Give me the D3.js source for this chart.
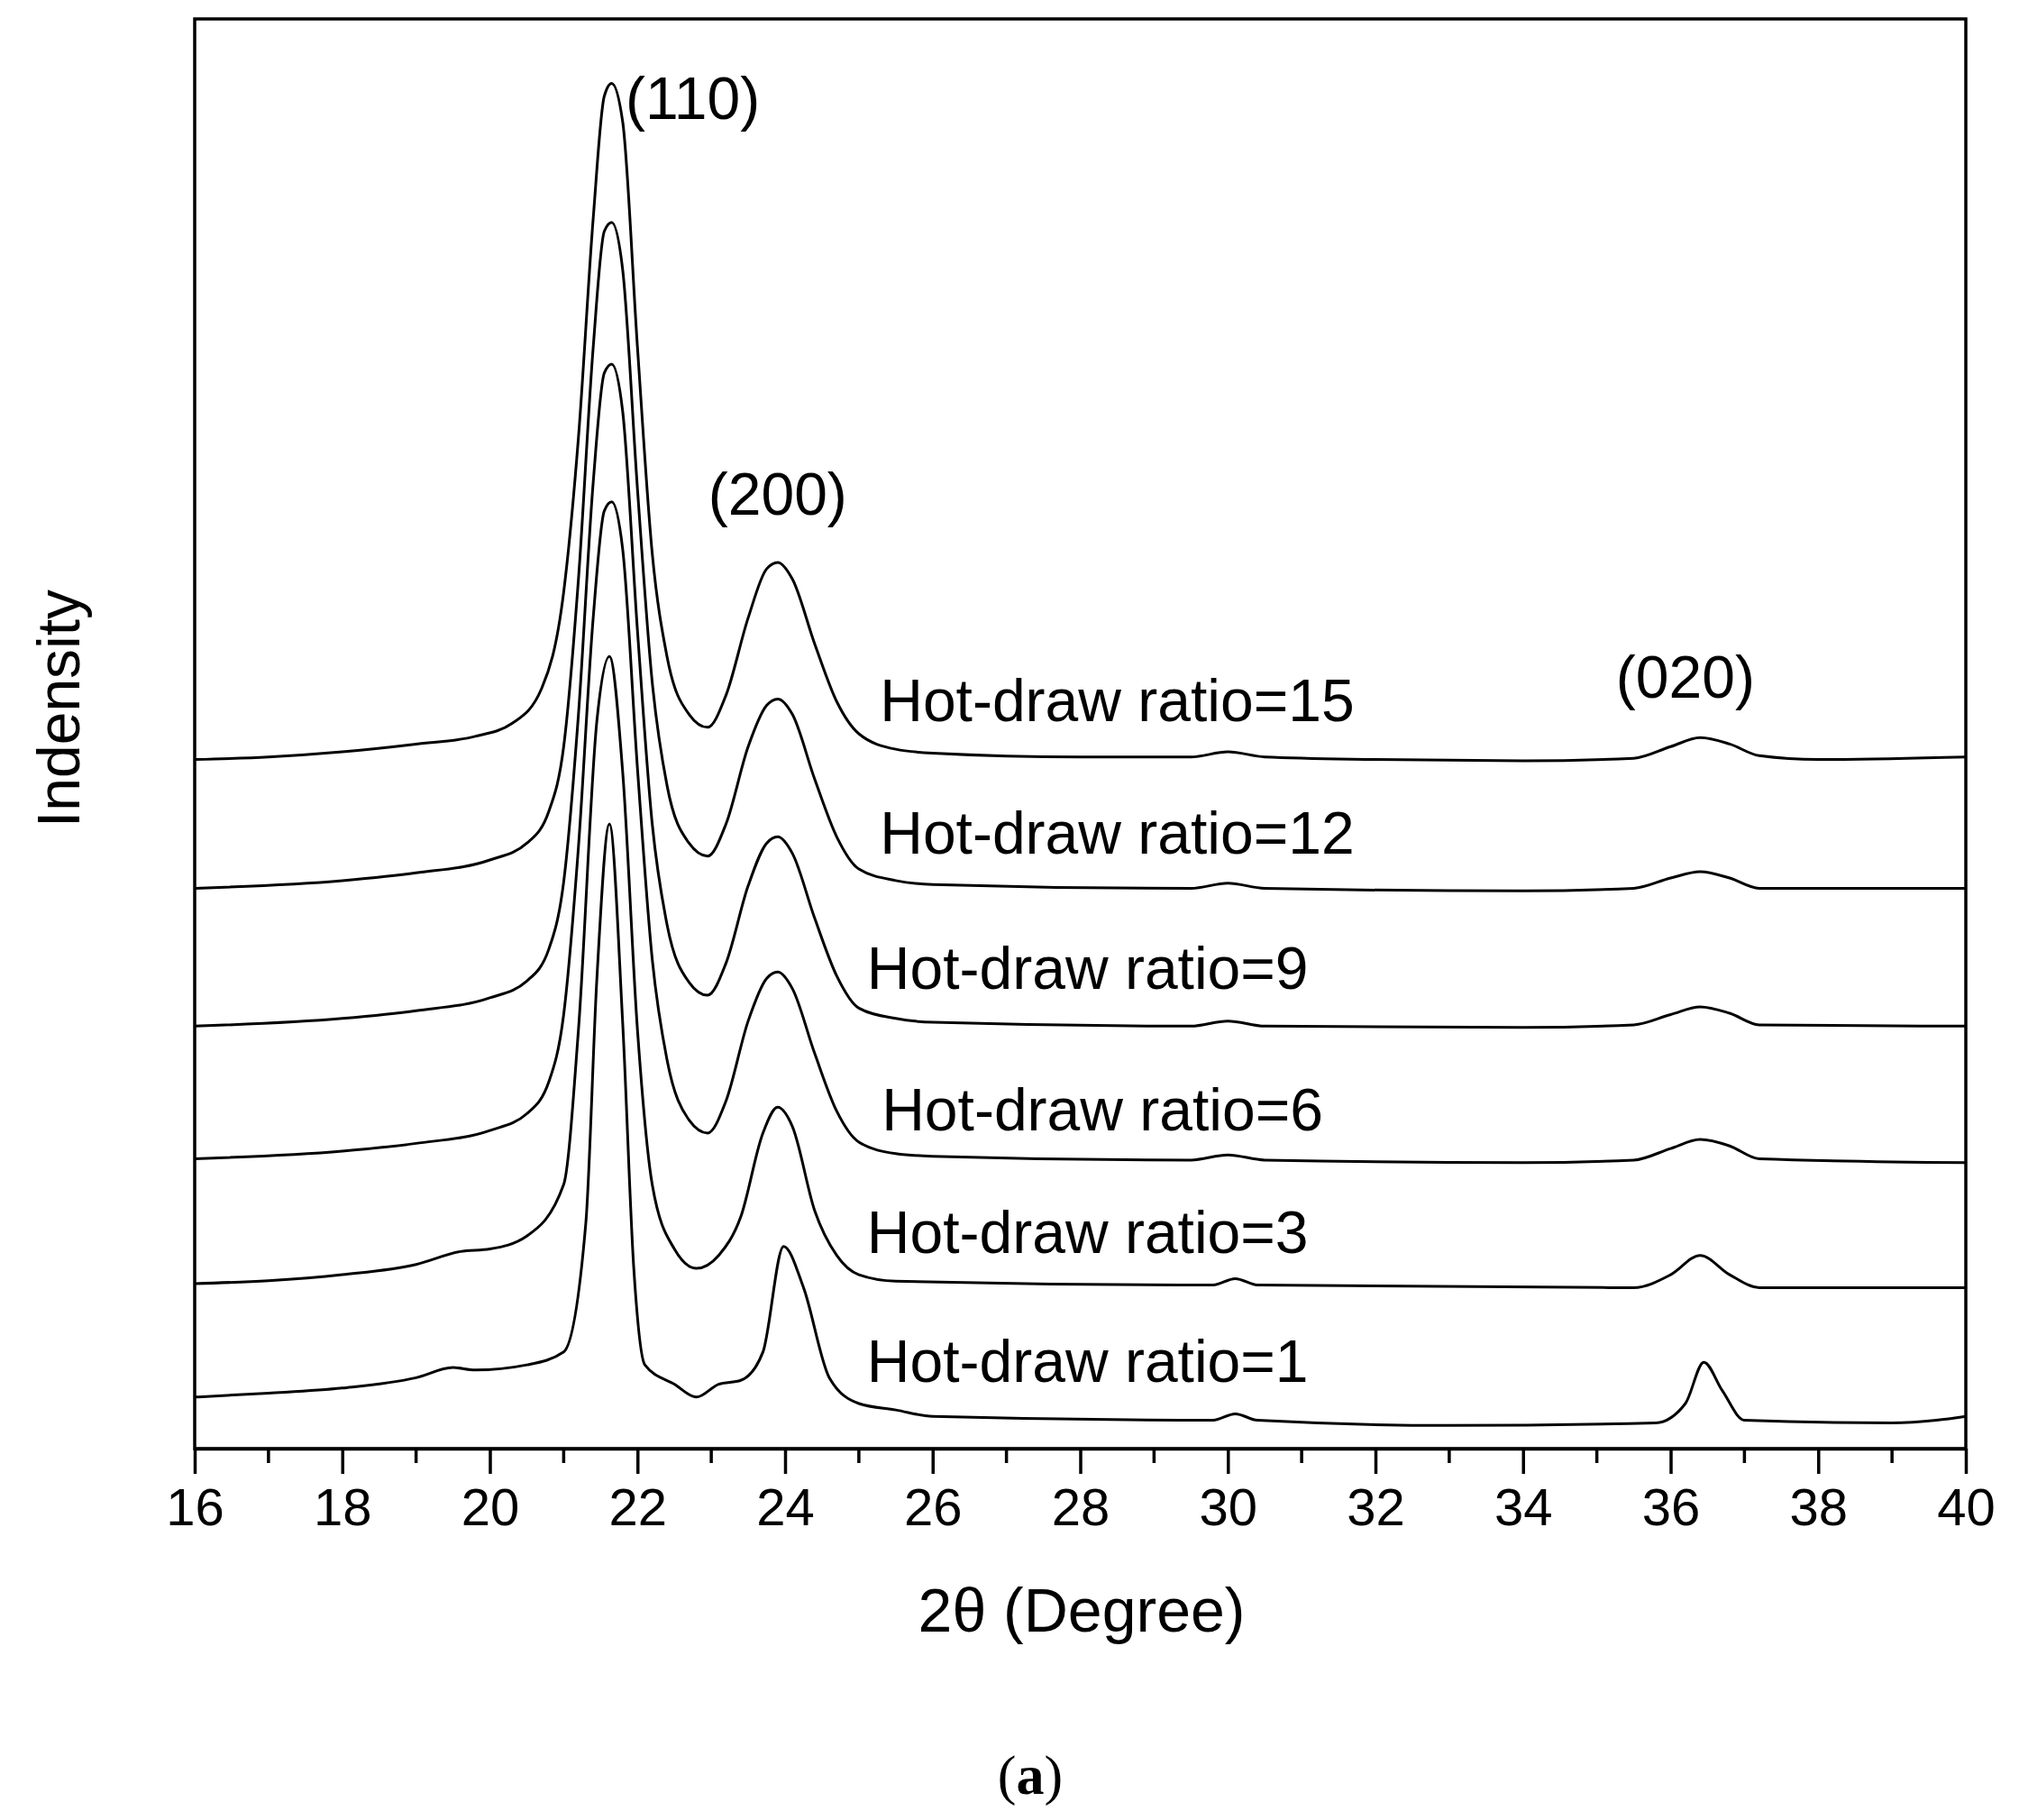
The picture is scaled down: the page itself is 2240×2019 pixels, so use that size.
<!DOCTYPE html>
<html>
<head>
<meta charset="utf-8">
<script src="https://cdn.jsdelivr.net/npm/d3@7"></script>
<style>
body { margin: 0; background: #fff; }
text { font-family: Arial, "Liberation Sans", sans-serif; fill: #000; }
</style>
</head>
<body>
<div id="display_svg"></div>
<script>
var W = 2240, H = 2019;
var mLeft = 216, mRight = 2181, mTop = 21, mBottom = 1607;

// [2theta, intensity (arbitrary units, stacked)]
var series = {
    "15": [[16,535],[17,537],[18,541],[19,547],[19.8,553],[20.3,563],[20.7,590],[21.0,665],[21.2,785],[21.4,955],[21.55,1050],[21.65,1060],[21.8,1030],[22.0,855],[22.2,695],[22.4,615],[22.7,570],[22.95,560],[23.2,585],[23.5,645],[23.75,683],[23.9,688],[24.1,675],[24.4,625],[24.7,580],[25.0,555],[25.5,543],[26,540],[28,537],[29.5,537],[30.0,541],[30.5,537],[32,535],[34,534],[35.5,536],[36.0,545],[36.4,552],[36.8,547],[37.2,538],[38,535],[40,537]],
    "12": [[16,435],[18,441],[19,447],[20,457],[20.5,470],[20.8,495],[21.0,545],[21.2,675],[21.4,855],[21.55,945],[21.65,952],[21.8,915],[22.0,745],[22.2,595],[22.4,515],[22.7,470],[22.95,460],[23.2,485],[23.5,545],[23.75,577],[23.9,582],[24.1,570],[24.4,520],[24.7,475],[25.0,450],[25.5,441],[26,438],[29.5,435],[30,439],[30.5,435],[34,433],[35.5,435],[36,443],[36.4,448],[36.8,443],[37.2,435],[40,435]],
    "9": [[16,328],[18,334],[19,340],[20,350],[20.5,363],[20.8,388],[21.0,440],[21.2,570],[21.4,750],[21.55,835],[21.65,842],[21.8,805],[22.0,635],[22.2,485],[22.4,407],[22.7,362],[22.95,352],[23.2,377],[23.5,437],[23.75,470],[23.9,475],[24.1,462],[24.4,412],[24.7,367],[25.0,342],[25.5,334],[26,331],[29.5,328],[30,332],[30.5,328],[34,327],[35.5,329],[36,337],[36.4,343],[36.8,338],[37.2,329],[40,328]],
    "6": [[16,225],[18,231],[19,237],[20,247],[20.5,260],[20.8,285],[21.0,337],[21.2,467],[21.4,645],[21.55,728],[21.65,735],[21.8,698],[22.0,528],[22.2,380],[22.4,302],[22.7,255],[22.95,245],[23.2,270],[23.5,332],[23.75,365],[23.9,370],[24.1,357],[24.4,307],[24.7,262],[25.0,238],[25.5,229],[26,227],[29.5,224],[30,228],[30.5,224],[34,222],[35.5,224],[36,233],[36.4,240],[36.8,235],[37.2,225],[40,222]],
    "3": [[16,128],[18,135],[19,143],[19.6,153],[20,155],[20.5,165],[21.0,205],[21.2,325],[21.45,565],[21.62,615],[21.8,525],[22.0,325],[22.2,205],[22.5,155],[22.8,140],[23.1,150],[23.4,180],[23.7,245],[23.9,265],[24.1,250],[24.4,185],[24.7,150],[25.0,135],[25.5,130],[29.8,127],[30.1,132],[30.4,127],[35.5,125],[36.0,135],[36.4,150],[36.8,135],[37.2,125],[40,125]],
    "1": [[16,40],[17,43],[18,47],[19,55],[19.5,63],[19.8,61],[20.5,65],[21.0,75],[21.3,175],[21.45,365],[21.62,485],[21.8,330],[21.95,140],[22.1,65],[22.5,50],[22.8,40],[23.1,50],[23.4,53],[23.7,75],[23.98,157],[24.25,125],[24.6,55],[25.0,35],[25.5,30],[26,25],[29.8,22],[30.1,27],[30.4,22],[33,18],[35.8,20],[36.2,35],[36.45,67],[36.7,45],[37.0,22],[39,20],[39.6,22],[40,25]]
};

var labels = [
    {t: "Hot-draw ratio=15", x: 28.5, y: 565},
    {t: "Hot-draw ratio=12", x: 28.5, y: 462},
    {t: "Hot-draw ratio=9", x: 28.1, y: 357},
    {t: "Hot-draw ratio=6", x: 28.3, y: 247},
    {t: "Hot-draw ratio=3", x: 28.1, y: 152},
    {t: "Hot-draw ratio=1", x: 28.1, y: 52},
    {t: "(110)", x: 22.75, y: 1032},
    {t: "(200)", x: 23.9, y: 725},
    {t: "(020)", x: 36.2, y: 583}
];

var svg = d3.select("#display_svg")
    .append("svg")
    .attr("width", W)
    .attr("height", H);

var x = d3.scaleLinear().domain([16, 40]).range([mLeft, mRight]);
var y = d3.scaleLinear().domain([0, 1110]).range([mBottom, mTop]);

var line = d3.line()
    .x(function(d) { return x(d[0]); })
    .y(function(d) { return y(d[1]); })
    .curve(d3.curveMonotoneX);

for (var k in series) {
    svg.append("path")
        .attr("d", line(series[k]))
        .attr("fill", "none")
        .attr("stroke", "#000")
        .attr("stroke-width", 3);
}

// frame
svg.append("rect")
    .attr("x", mLeft).attr("y", mTop)
    .attr("width", mRight - mLeft).attr("height", mBottom - mTop)
    .attr("fill", "none").attr("stroke", "#000").attr("stroke-width", 3.5);

var xAxis = svg.append("g")
    .attr("transform", "translate(0," + mBottom + ")")
    .call(d3.axisBottom(x).tickValues(d3.range(16, 41, 2)).tickSize(28).tickPadding(16).tickSizeOuter(0));
xAxis.select(".domain").attr("stroke-width", 3.5);
xAxis.selectAll(".tick line").attr("stroke-width", 3.5);
xAxis.selectAll("text").style("font-size", "58px").style("font-family", "Arial, 'Liberation Sans', sans-serif");

svg.append("g").selectAll("line")
    .data(d3.range(17, 40, 2))
    .enter()
    .append("line")
    .attr("x1", function(d) { return x(d); })
    .attr("x2", function(d) { return x(d); })
    .attr("y1", mBottom)
    .attr("y2", mBottom + 16)
    .attr("stroke", "#000")
    .attr("stroke-width", 3.5);

svg.selectAll(".lab")
    .data(labels)
    .enter()
    .append("text")
    .attr("x", function(d) { return x(d.x); })
    .attr("y", function(d) { return y(d.y); })
    .attr("text-anchor", "middle")
    .attr("font-size", "66px")
    .text(function(d) { return d.t; });

svg.append("text")
    .attr("x", 1200).attr("y", 1810)
    .attr("text-anchor", "middle")
    .attr("font-size", "68px")
    .text("2θ (Degree)");

svg.append("text")
    .attr("transform", "translate(88,786) rotate(-90)")
    .attr("text-anchor", "middle")
    .attr("font-size", "66px")
    .text("Indensity");

svg.append("text")
    .attr("x", 1143).attr("y", 1990)
    .attr("text-anchor", "middle")
    .attr("font-size", "62px")
    .style("font-family", "'Liberation Serif', 'DejaVu Serif', serif")
    .html('(<tspan font-weight="bold">a</tspan>)');
</script>
</body>
</html>
